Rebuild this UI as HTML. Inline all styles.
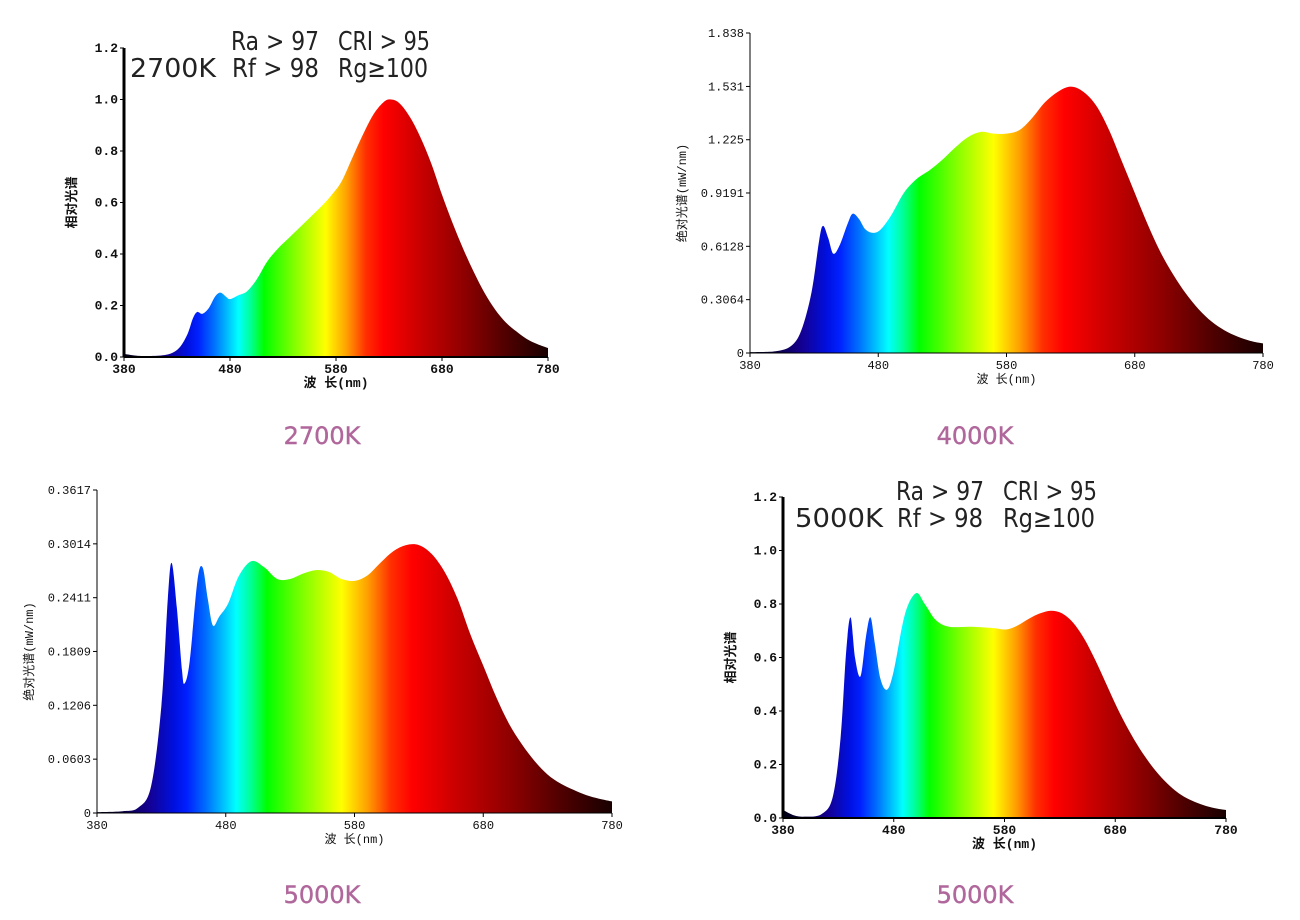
<!DOCTYPE html>
<html><head><meta charset="utf-8"><style>
html,body{margin:0;padding:0;background:#fff;width:1300px;height:920px;overflow:hidden}
svg{position:absolute;left:0;top:0}
.t{font-family:"Liberation Mono","DejaVu Sans Mono",monospace;font-size:12px;fill:#111}
.tb{font-family:"Liberation Mono","DejaVu Sans Mono",monospace;font-size:13px;font-weight:bold;fill:#111}
.cap{font-family:"DejaVu Sans","Liberation Sans",sans-serif;font-size:24px;fill:#b0679b;stroke:#b0679b;stroke-width:0.4}
.ann{font-family:"DejaVu Sans","Liberation Sans",sans-serif;font-size:26px;fill:#222}
.cj{font-family:"Liberation Mono","Noto Sans CJK SC",monospace;font-size:12px;fill:#111}
.cjb{font-family:"Liberation Mono","Noto Sans CJK SC",monospace;font-size:13px;font-weight:bold;fill:#111}
</style></head><body>
<svg id="s" width="1300" height="920" xmlns="http://www.w3.org/2000/svg"></svg>
<script>
var NS="http://www.w3.org/2000/svg",S=document.getElementById('s');
var stops=[[380,'#000018'],[400,'#0a0040'],[420,'#140090'],[440,'#0010e0'],[450,'#0020ff'],[465,'#0070ff'],[478,'#00c0ff'],[488,'#00ffff'],[500,'#00ff90'],[512,'#00ff00'],[540,'#80ff00'],[570,'#ffff00'],[590,'#ffa000'],[608,'#ff3000'],[625,'#ff0000'],[660,'#c80000'],[700,'#900000'],[740,'#500000'],[780,'#180000']];
var html='';
function chart(id,x0,x1,y0,ymax,yTop,data,ticks,opt){
  var sx=function(n){return x0+(n-380)*(x1-x0)/400};
  var sy=function(v){return y0-v*(y0-yTop)/ymax};
  html+='<linearGradient id="g'+id+'" gradientUnits="userSpaceOnUse" x1="'+x0+'" x2="'+x1+'" y1="0" y2="0">';
  stops.forEach(function(s){html+='<stop offset="'+((s[0]-380)/400)+'" stop-color="'+s[1]+'"/>'});
  html+='</linearGradient>';
  var p=data.map(function(d){return [sx(d[0]),sy(d[1])]});
  var d='M'+p[0][0]+','+y0+' L'+p[0][0]+','+p[0][1];
  for(var i=0;i<p.length-1;i++){
    var a=p[i-1]||p[i],b=p[i],c=p[i+1],e=p[i+2]||c;
    d+=' C'+(b[0]+(c[0]-a[0])/6)+','+(b[1]+(c[1]-a[1])/6)+' '+(c[0]-(e[0]-b[0])/6)+','+(c[1]-(e[1]-b[1])/6)+' '+c[0]+','+c[1];
  }
  d+=' L'+p[p.length-1][0]+','+y0+' Z';
  html+='<path d="'+d+'" fill="url(#g'+id+')"/>';
  var cls=opt.bold?'tb':'t';
  html+='<line x1="'+x0+'" y1="'+y0+'" x2="'+x1+'" y2="'+y0+'" stroke="#000" stroke-width="'+(opt.bold?2:1)+'"/>';
  html+='<line x1="'+x0+'" y1="'+y0+'" x2="'+x0+'" y2="'+yTop+'" stroke="#000" stroke-width="'+(opt.bold?3:1)+'"/>';
  ticks.forEach(function(t){var y=sy(t[0]);
    html+='<line x1="'+(x0-4)+'" y1="'+y+'" x2="'+x0+'" y2="'+y+'" stroke="#000"/>';
    html+='<text class="'+cls+'" x="'+(x0-6)+'" y="'+(y+4)+'" text-anchor="end">'+t[1]+'</text>';});
  [380,480,580,680,780].forEach(function(n){var x=sx(n);
    html+='<line x1="'+x+'" y1="'+y0+'" x2="'+x+'" y2="'+(y0+4)+'" stroke="#000"/>';
    html+='<text class="'+cls+'" x="'+x+'" y="'+(y0+16)+'" text-anchor="middle">'+n+'</text>';});
  html+='<text class="'+(opt.bold?'cjb':'cj')+'" x="'+((x0+x1)/2)+'" y="'+(y0+30)+'" text-anchor="middle">波 长(nm)</text>';
  var yl=(y0+yTop)/2, xl=x0-(opt.bold?48:64);
  html+='<text class="'+(opt.bold?'cjb':'cj')+'" x="'+xl+'" y="'+yl+'" text-anchor="middle" transform="rotate(-90 '+xl+' '+yl+')">'+opt.ylab+'</text>';
}
var d1=[[380,.012],[390,.006],[400,.004],[415,.006],[425,.015],[433,.04],[440,.09],[445,.15],[449,.175],[454,.168],[460,.19],[466,.235],[471,.25],[476,.235],[480,.225],[488,.24],[496,.255],[505,.3],[515,.37],[525,.42],[535,.46],[545,.5],[555,.54],[565,.58],[575,.625],[585,.68],[595,.77],[605,.86],[615,.94],[625,.99],[632,1.0],[640,.985],[650,.93],[660,.85],[670,.75],[680,.63],[690,.52],[700,.42],[710,.33],[720,.25],[730,.185],[740,.135],[750,.1],[760,.07],[770,.05],[780,.035]];
chart(1,124,548,357,1.2,48,d1,[[0,'0.0'],[.2,'0.2'],[.4,'0.4'],[.6,'0.6'],[.8,'0.8'],[1,'1.0'],[1.2,'1.2']],{bold:1,ylab:'相对光谱'});
var d2=[[380,.005],[400,.01],[412,.04],[420,.13],[428,.35],[434,.65],[437,.73],[441,.66],[445,.57],[450,.62],[456,.74],[460,.8],[465,.77],[470,.71],[476,.69],[482,.71],[490,.79],[500,.92],[510,1.0],[520,1.05],[530,1.11],[540,1.18],[550,1.24],[560,1.27],[570,1.26],[580,1.26],[590,1.28],[600,1.35],[610,1.44],[620,1.5],[630,1.53],[640,1.5],[650,1.42],[660,1.28],[670,1.1],[680,.92],[690,.74],[700,.58],[710,.45],[720,.34],[730,.25],[740,.18],[750,.13],[760,.095],[770,.07],[780,.055]];
chart(2,750,1263,353,1.838,33,d2,[[0,'0'],[.3064,'0.3064'],[.6128,'0.6128'],[.9191,'0.9191'],[1.225,'1.225'],[1.531,'1.531'],[1.838,'1.838']],{ylab:'绝对光谱(mW/nm)'});
var d3=[[380,.001],[400,.002],[412,.006],[422,.03],[430,.12],[435,.24],[438,.28],[442,.23],[446,.16],[448,.145],[452,.17],[458,.26],[462,.275],[466,.24],[470,.21],[475,.22],[482,.235],[490,.265],[500,.282],[510,.275],[520,.262],[530,.262],[540,.268],[550,.272],[560,.27],[570,.262],[580,.26],[590,.266],[600,.28],[610,.293],[620,.3],[630,.3],[640,.29],[650,.27],[660,.24],[670,.2],[680,.165],[690,.13],[700,.1],[710,.077],[720,.058],[730,.043],[740,.033],[750,.026],[760,.02],[770,.016],[780,.013]];
chart(3,97,612,813,.3617,490,d3,[[0,'0'],[.0603,'0.0603'],[.1206,'0.1206'],[.1809,'0.1809'],[.2411,'0.2411'],[.3014,'0.3014'],[.3617,'0.3617']],{ylab:'绝对光谱(mW/nm)'});
var d4=[[380,.03],[390,.01],[400,.005],[415,.015],[425,.08],[432,.3],[437,.62],[441,.75],[445,.6],[450,.53],[455,.68],[459,.75],[463,.65],[468,.52],[474,.48],[480,.55],[490,.76],[500,.84],[508,.8],[518,.74],[530,.715],[550,.715],[570,.71],[582,.705],[592,.72],[602,.745],[612,.765],[622,.775],[632,.765],[642,.73],[652,.67],[662,.59],[672,.5],[682,.41],[692,.33],[702,.26],[712,.2],[722,.15],[732,.11],[742,.08],[752,.06],[762,.045],[772,.035],[780,.03]];
chart(4,783,1226,818,1.2,497,d4,[[0,'0.0'],[.2,'0.2'],[.4,'0.4'],[.6,'0.6'],[.8,'0.8'],[1,'1.0'],[1.2,'1.2']],{bold:1,ylab:'相对光谱'});
function ann(x,y,w,t){html+='<text class="ann" x="'+x+'" y="'+y+'" textLength="'+w+'" lengthAdjust="spacingAndGlyphs">'+t+'</text>';}
ann(130,77,86,'2700K');ann(231,50,88,'Ra &gt; 97');ann(338,50,92,'CRI &gt; 95');ann(232,77,87,'Rf &gt; 98');ann(338,77,90,'Rg≥100');
ann(795,527,88,'5000K');ann(896,500,88,'Ra &gt; 97');ann(1003,500,94,'CRI &gt; 95');ann(897,527,86,'Rf &gt; 98');ann(1003,527,92,'Rg≥100');
html+='<text class="cap" x="322" y="444" text-anchor="middle">2700K</text><text class="cap" x="975" y="444" text-anchor="middle">4000K</text><text class="cap" x="322" y="903" text-anchor="middle">5000K</text><text class="cap" x="975" y="903" text-anchor="middle">5000K</text>';
S.innerHTML=html;
</script>
</body></html>
